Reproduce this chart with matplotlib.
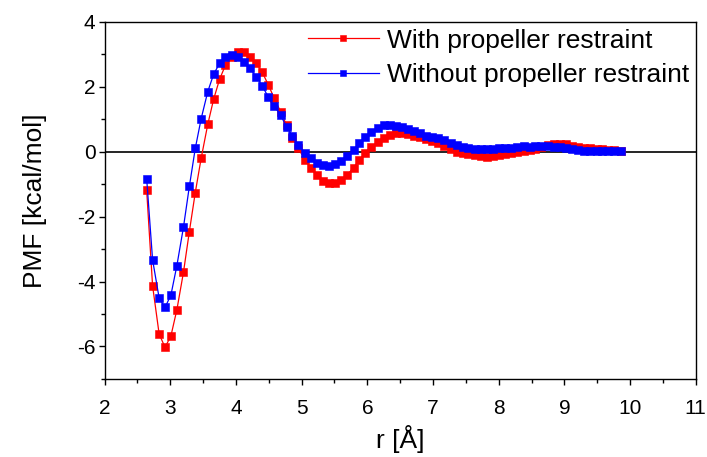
import matplotlib
matplotlib.use('Agg')
import matplotlib.pyplot as plt
from matplotlib.ticker import MultipleLocator

# distance grid [A]
r = [2.64, 2.73, 2.83, 2.92, 3.01, 3.10, 3.20, 3.29, 3.38, 3.47,
     3.57, 3.66, 3.75, 3.84, 3.94, 4.03, 4.12, 4.21, 4.31, 4.40,
     4.49, 4.58, 4.68, 4.77, 4.86, 4.95, 5.05, 5.14, 5.23, 5.32,
     5.42, 5.51, 5.60, 5.69, 5.79, 5.88, 5.97, 6.06, 6.16, 6.25,
     6.34, 6.43, 6.53, 6.62, 6.71, 6.80, 6.90, 6.99, 7.08, 7.17,
     7.27, 7.36, 7.45, 7.54, 7.64, 7.73, 7.82, 7.91, 8.01, 8.10,
     8.19, 8.28, 8.38, 8.47, 8.56, 8.65, 8.75, 8.84, 8.93, 9.02,
     9.12, 9.21, 9.30, 9.39, 9.49, 9.58, 9.67, 9.76, 9.86]

pmf_with = [-1.19, -4.13, -5.62, -6.03, -5.67, -4.87, -3.72, -2.46, -1.26, -0.20,
            0.84, 1.62, 2.23, 2.67, 2.93, 3.08, 3.06, 2.91, 2.72, 2.45,
            2.07, 1.66, 1.23, 0.82, 0.42, 0.10, -0.25, -0.51, -0.72, -0.89,
            -0.97, -0.97, -0.87, -0.72, -0.49, -0.25, -0.03, 0.16, 0.29, 0.42,
            0.52, 0.57, 0.57, 0.54, 0.49, 0.44, 0.38, 0.32, 0.26, 0.18,
            0.08, 0.00, -0.05, -0.08, -0.10, -0.12, -0.15, -0.13, -0.10, -0.08,
            -0.05, -0.02, 0.02, 0.06, 0.09, 0.16, 0.21, 0.23, 0.24, 0.23,
            0.19, 0.15, 0.13, 0.11, 0.09, 0.07, 0.05, 0.04, 0.03]

pmf_without = [-0.83, -3.33, -4.51, -4.80, -4.41, -3.51, -2.33, -1.07, 0.10, 1.02,
               1.85, 2.39, 2.72, 2.93, 2.98, 2.93, 2.77, 2.57, 2.31, 2.03,
               1.69, 1.41, 1.13, 0.76, 0.49, 0.20, -0.03, -0.20, -0.34, -0.41,
               -0.43, -0.39, -0.28, -0.13, 0.06, 0.26, 0.45, 0.62, 0.73, 0.81,
               0.83, 0.80, 0.76, 0.70, 0.64, 0.57, 0.50, 0.45, 0.42, 0.36,
               0.28, 0.21, 0.14, 0.11, 0.09, 0.09, 0.09, 0.09, 0.10, 0.11,
               0.13, 0.16, 0.18, 0.15, 0.17, 0.18, 0.17, 0.16, 0.14, 0.11,
               0.08, 0.05, 0.03, 0.02, 0.01, 0.01, 0.01, 0.02, 0.02]

labels = ['With propeller restraint', 'Without propeller restraint']
colors = ['#ff0000', '#0000ff']

plt.rcParams['font.family'] = ['Liberation Sans', 'DejaVu Sans']
plt.rcParams['axes.unicode_minus'] = False

fig = plt.figure(figsize=(7.07, 4.57), dpi=100)
ax = fig.add_axes([0.148, 0.171, 0.836, 0.781])

ax.axhline(0, color='black', lw=1.2, zorder=1)
for y, lab, c in zip([pmf_with, pmf_without], labels, colors):
    ax.plot(r, y, color=c, lw=0.9, marker='s', markersize=6,
            markeredgewidth=0.4, markeredgecolor=c, label=lab, zorder=2)

ax.set_xlim(2, 11)
ax.set_ylim(-7, 4)
ax.xaxis.set_major_locator(MultipleLocator(1))
ax.xaxis.set_minor_locator(MultipleLocator(0.5))
ax.yaxis.set_major_locator(MultipleLocator(2))
ax.yaxis.set_minor_locator(MultipleLocator(1))
ax.tick_params(which='major', direction='out', length=4.5, width=1, labelsize=15)
ax.tick_params(which='minor', direction='out', length=3, width=1)
ax.tick_params(axis='x', which='major', pad=10)
ax.tick_params(axis='y', which='major', pad=2)
for s in ax.spines.values():
    s.set_linewidth(1)

ax.set_xlabel('r [Å]', fontsize=19, labelpad=5)
ax.set_ylabel('PMF [kcal/mol]', fontsize=19, labelpad=22)

ax.legend(loc='upper right', frameon=False, fontsize=19, handlelength=2.7,
          handletextpad=0.3, borderaxespad=0.05, borderpad=0.2,
          labelspacing=0.4, markerscale=0.75)

fig.savefig('out.png', dpi=100)
